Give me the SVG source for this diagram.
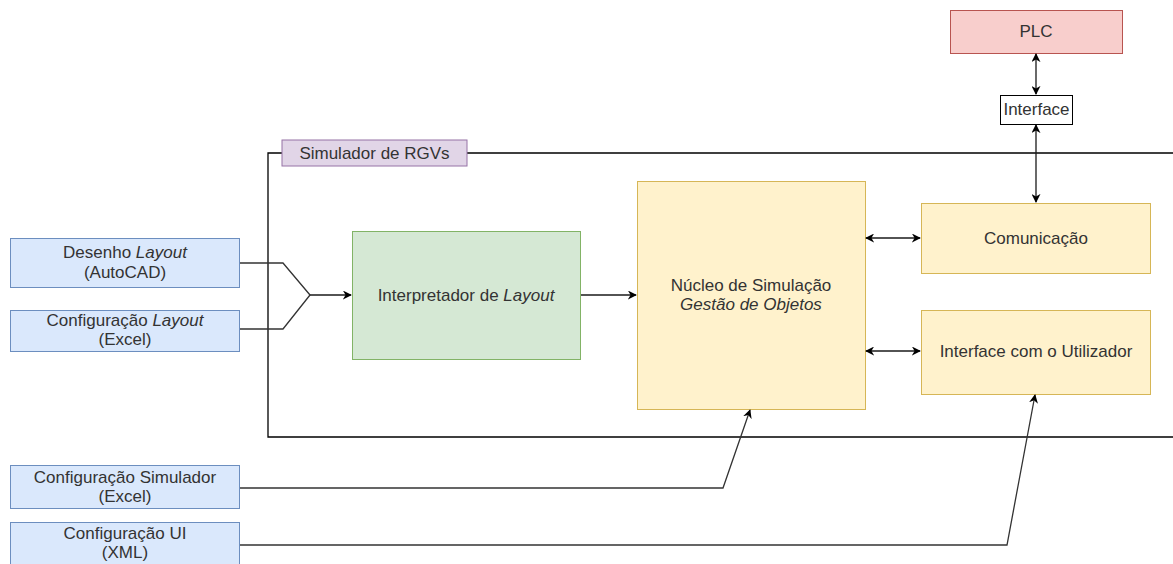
<svg xmlns="http://www.w3.org/2000/svg" width="1173" height="564" viewBox="0 0 1173 564">
<style>
text{font-family:"Liberation Sans",Arial,sans-serif;font-size:17px;fill:#333;text-anchor:middle}
.blue{fill:#dae8fc;stroke:#6c8ebf;stroke-width:1}
.green{fill:#d5e8d4;stroke:#82b366;stroke-width:1}
.yellow{fill:#fff2cc;stroke:#d6b656;stroke-width:1}
.red{fill:#f8cecc;stroke:#b85450;stroke-width:1}
.purple{fill:#e1d5e7;stroke:#9673a6;stroke-width:1}
.edge{fill:none;stroke:#1a1a1a;stroke-width:1.3}
.gray{fill:none;stroke:#333;stroke-width:1.3}
</style>
<defs>
<marker id="arr" viewBox="0 0 10 10" refX="9" refY="5" markerWidth="9" markerHeight="9" markerUnits="userSpaceOnUse" orient="auto-start-reverse">
<path d="M0,0 L10,5 L0,10 L3,5 z" fill="#000"/>
</marker>
</defs>
<g id="container">
<path d="M1173,153 H268 V437 H1173" fill="none" stroke="#000" stroke-width="1.3"/>
</g>
<g id="sim-label">
<rect class="purple" x="282" y="140" width="185" height="26"/>
<text x="374.5" y="159">Simulador de RGVs</text>
</g>
<g id="desenho">
<rect class="blue" x="10.5" y="238.5" width="229" height="49"/>
<text x="125" y="258">Desenho <tspan font-style="italic">Layout</tspan></text>
<text x="125" y="278">(AutoCAD)</text>
</g>
<g id="config-layout">
<rect class="blue" x="10.5" y="310.5" width="229" height="41"/>
<text x="125" y="326">Configuração <tspan font-style="italic">Layout</tspan></text>
<text x="125" y="345">(Excel)</text>
</g>
<g id="config-sim">
<rect class="blue" x="10.5" y="465.5" width="229" height="43"/>
<text x="125" y="483">Configuração Simulador</text>
<text x="125" y="502">(Excel)</text>
</g>
<g id="config-ui">
<rect class="blue" x="10.5" y="522.5" width="229" height="45"/>
<text x="125" y="539">Configuração UI</text>
<text x="125" y="558">(XML)</text>
</g>
<g id="interpretador">
<rect class="green" x="352.5" y="231.5" width="228" height="128"/>
<text x="466" y="301">Interpretador de <tspan font-style="italic">Layout</tspan></text>
</g>
<g id="nucleo">
<rect class="yellow" x="637.5" y="181.5" width="228" height="228"/>
<text x="751" y="291">Núcleo de Simulação</text>
<text x="751" y="310" font-style="italic">Gestão de Objetos</text>
</g>
<g id="comunicacao">
<rect class="yellow" x="921.5" y="203.5" width="229" height="70"/>
<text x="1036" y="244">Comunicação</text>
</g>
<g id="interface-ui">
<rect class="yellow" x="921.5" y="310.5" width="229" height="84"/>
<text x="1036" y="357">Interface com o Utilizador</text>
</g>
<g id="plc">
<rect class="red" x="950.5" y="10.5" width="172" height="43"/>
<text x="1036" y="37">PLC</text>
</g>
<g id="interface">
<rect x="1000.5" y="95.5" width="72" height="29" fill="#fff" stroke="#000" stroke-width="1"/>
<text x="1036.5" y="115">Interface</text>
</g>
<g id="connectors">
<path class="gray" d="M240,263 H283 L310,295"/>
<path class="gray" d="M240,329 H283 L310,295"/>
<path class="edge" d="M310,295 H351" marker-end="url(#arr)"/>
<path class="edge" d="M581,295 H636" marker-end="url(#arr)"/>
<path class="edge" d="M866,238 H920" marker-start="url(#arr)" marker-end="url(#arr)"/>
<path class="edge" d="M866,351 H920" marker-start="url(#arr)" marker-end="url(#arr)"/>
<path class="edge" d="M1036,54 V94" marker-start="url(#arr)" marker-end="url(#arr)"/>
<path class="edge" d="M1036,125 V202" marker-start="url(#arr)" marker-end="url(#arr)"/>
<path class="gray" d="M240,488 H723 L750,410" marker-end="url(#arr)"/>
<path class="gray" d="M240,545 H1007 L1035,395" marker-end="url(#arr)"/>
</g>
</svg>
